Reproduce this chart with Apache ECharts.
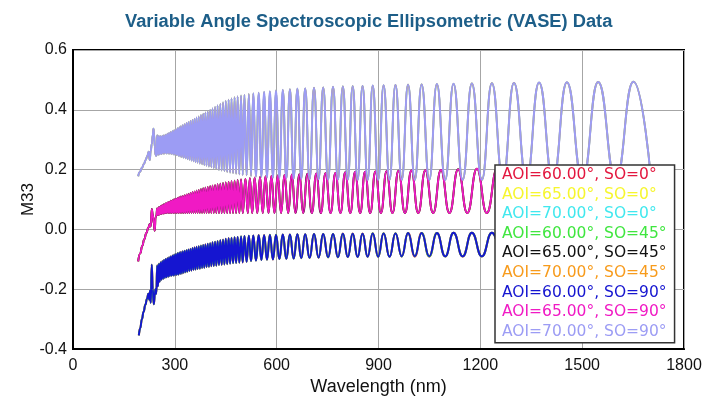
<!DOCTYPE html>
<html>
<head>
<meta charset="utf-8">
<script src="https://cdn.jsdelivr.net/npm/echarts/dist/echarts.min.js"></script>
<style>
  html, body { margin: 0; padding: 0; background: #fff; }
  #chart { width: 705px; height: 401px; }
</style>
</head>
<body>
<div id="chart"></div>
<script>
// M33 vs wavelength for three angles of incidence, each measured at three sample orientations.
const xTicks = [0, 300, 600, 900, 1200, 1500, 1800];
const yTicks = [-0.4, -0.2, 0.0, 0.2, 0.4, 0.6];

const seriesNames = [
  'AOI=60.00°, SO=0°', 'AOI=65.00°, SO=0°', 'AOI=70.00°, SO=0°',
  'AOI=60.00°, SO=45°', 'AOI=65.00°, SO=45°', 'AOI=70.00°, SO=45°',
  'AOI=60.00°, SO=90°', 'AOI=65.00°, SO=90°', 'AOI=70.00°, SO=90°'
];
// which angle-of-incidence curve each series follows
const seriesAoi = [60, 65, 70, 60, 65, 70, 60, 65, 70];

// ---- AOI = 70° : [wavelength nm, M33] ----
const aoi70Lead = [[192,0.178],[197,0.192],[203,0.206],[209,0.219],[214,0.232],[219,0.246],[223,0.26],[226,0.232],[229,0.262],[232,0.285],[235,0.315],[237,0.337],[239,0.318],[241,0.275],[243,0.25]];
const aoi70Peaks = [[248,0.315],[253,0.313],[258,0.312],[263,0.313],[268,0.315],[273,0.317],[278,0.32],[283,0.323],[288,0.326],[293,0.329],[298,0.332],[303,0.335],[308,0.339],[313,0.342],[318,0.345],[323.5,0.349],[329,0.352],[334.5,0.356],[340,0.359],[346,0.363],[352,0.366],[358,0.37],[364,0.374],[370.5,0.378],[377,0.383],[383.5,0.387],[390,0.391],[397,0.395],[404,0.4],[411,0.405],[418.5,0.41],[426,0.415],[434,0.42],[442,0.425],[450,0.43],[458.5,0.434],[467,0.438],[476,0.442],[485,0.445],[495,0.448],[505,0.45],[518,0.453],[531,0.455],[547,0.457],[563,0.46],[580,0.462],[598,0.465],[618,0.467],[639,0.469],[661,0.471],[684,0.472],[710,0.474],[737,0.475],[766,0.477],[795,0.478],[824,0.479],[853,0.48],[883,0.481],[915,0.482],[950,0.483],[987,0.484],[1027,0.485],[1072,0.486],[1121,0.487],[1175,0.488],[1234,0.489],[1299,0.49],[1373,0.491],[1455,0.492],[1547,0.493],[1651,0.494]];
const aoi70Troughs = [[245.5,0.246],[250.5,0.249],[255.5,0.251],[260.5,0.252],[265.5,0.253],[270.5,0.254],[275.5,0.254],[280.5,0.254],[285.5,0.253],[290.5,0.252],[295.5,0.251],[300.5,0.25],[305.5,0.248],[310.5,0.246],[315.5,0.244],[320.8,0.242],[326.2,0.24],[331.8,0.238],[337.2,0.235],[343,0.233],[349,0.23],[355,0.228],[361,0.225],[367.2,0.223],[373.8,0.22],[380.2,0.218],[386.8,0.215],[393.5,0.213],[400.5,0.21],[407.5,0.208],[414.8,0.205],[422.2,0.202],[430,0.199],[438,0.197],[446,0.195],[454.2,0.192],[462.8,0.19],[471.5,0.188],[480.5,0.186],[490,0.184],[500,0.182],[511.5,0.181],[524.5,0.179],[539,0.177],[555,0.176],[571.5,0.174],[589,0.173],[608,0.172],[628.5,0.171],[650,0.17],[672.5,0.169],[697,0.168],[723.5,0.168],[751.5,0.167],[780.5,0.167],[809.5,0.167],[838.5,0.166],[868,0.166],[899,0.166],[932.5,0.166],[968.5,0.166],[1007,0.166],[1049.5,0.166],[1096.5,0.166],[1148,0.166],[1204.5,0.166],[1266.5,0.166],[1336,0.166],[1414,0.166],[1501,0.166],[1599,0.166],[1703,0.166]];

// ---- AOI = 65° ----
const aoi65Lead = [[192,-0.107],[198,-0.08],[204,-0.055],[210,-0.033],[216,-0.012],[222,0.006],[226,0.018],[229,0.01],[232,0.068],[235,0.05],[238,0.02],[241,-0.004],[243,0.04]];
const aoi65Peaks = [[248,0.07],[253,0.074],[258,0.078],[263,0.081],[268,0.084],[273,0.087],[278,0.09],[283,0.093],[288,0.096],[293,0.098],[298,0.101],[303,0.103],[308,0.105],[313,0.108],[318,0.11],[323.5,0.112],[329,0.114],[334.5,0.117],[340,0.119],[346,0.122],[352,0.125],[358,0.127],[364,0.13],[370.5,0.132],[377,0.135],[383.5,0.138],[390,0.14],[397,0.142],[404,0.145],[411,0.147],[418.5,0.149],[426,0.151],[434,0.153],[442,0.155],[450,0.157],[458.5,0.159],[467,0.161],[476,0.163],[485,0.165],[495,0.167],[508,0.169],[521,0.171],[535,0.173],[551,0.175],[567,0.177],[584.5,0.179],[603,0.18],[623,0.182],[644.5,0.183],[667,0.185],[690.5,0.186],[717,0.187],[744,0.188],[773,0.189],[802,0.191],[831,0.192],[860.5,0.193],[891,0.194],[924,0.195],[959,0.196],[997,0.197],[1038,0.198],[1084,0.199],[1134.5,0.201],[1190,0.203],[1250,0.204],[1317.5,0.205],[1393.5,0.206],[1478,0.207],[1573,0.208],[1677,0.209]];
const aoi65Troughs = [[245.5,0.045],[250.5,0.048],[255.5,0.05],[260.5,0.052],[265.5,0.053],[270.5,0.054],[275.5,0.055],[280.5,0.055],[285.5,0.055],[290.5,0.055],[295.5,0.055],[300.5,0.055],[305.5,0.055],[310.5,0.055],[315.5,0.055],[320.8,0.055],[326.2,0.055],[331.8,0.055],[337.2,0.055],[343,0.055],[349,0.055],[355,0.055],[361,0.055],[367.2,0.055],[373.8,0.055],[380.2,0.055],[386.8,0.055],[393.5,0.055],[400.5,0.055],[407.5,0.055],[414.8,0.055],[422.2,0.055],[430,0.055],[438,0.055],[446,0.055],[454.2,0.055],[462.8,0.055],[471.5,0.055],[480.5,0.055],[490,0.055],[500,0.055],[515,0.055],[528,0.055],[543,0.055],[559,0.055],[576,0.055],[593.5,0.055],[613,0.055],[634,0.055],[655.5,0.055],[678,0.055],[703.5,0.055],[730,0.055],[759,0.055],[788,0.055],[817,0.055],[846,0.055],[875.5,0.055],[907,0.055],[941,0.055],[978,0.055],[1017,0.055],[1061,0.055],[1109,0.055],[1161.5,0.055],[1219,0.055],[1283,0.055],[1354.5,0.055],[1434.5,0.055],[1524,0.055],[1625,0.055],[1703,0.055]];

// ---- AOI = 60° ----
const aoi60Lead = [[194,-0.354],[198,-0.33],[203,-0.3],[208,-0.275],[213,-0.252],[218,-0.232],[222,-0.215],[225,-0.235],[227,-0.205],[229,-0.245],[232,-0.118],[235,-0.2],[238,-0.25],[241,-0.22],[243,-0.2]];
const aoi60Peaks = [[248,-0.12],[253,-0.115],[258,-0.11],[263,-0.106],[268,-0.102],[273,-0.099],[278,-0.096],[283,-0.093],[288,-0.09],[293,-0.087],[298,-0.084],[303,-0.082],[308,-0.079],[313,-0.077],[318,-0.075],[323.5,-0.073],[329,-0.071],[334.5,-0.069],[340,-0.067],[346,-0.065],[352,-0.062],[358,-0.06],[364,-0.058],[370.5,-0.056],[377,-0.054],[383.5,-0.052],[390,-0.05],[397,-0.048],[404,-0.046],[411,-0.043],[418.5,-0.041],[426,-0.039],[434,-0.036],[442,-0.034],[450,-0.031],[458.5,-0.029],[467,-0.028],[476,-0.026],[485,-0.025],[495,-0.023],[505,-0.022],[518,-0.021],[531,-0.02],[547,-0.019],[563,-0.019],[580,-0.018],[598,-0.018],[618,-0.017],[639,-0.017],[661,-0.016],[684,-0.016],[710,-0.015],[737,-0.015],[766,-0.015],[795,-0.014],[824,-0.014],[853,-0.014],[883,-0.013],[915,-0.013],[950,-0.013],[987,-0.012],[1027,-0.012],[1072,-0.012],[1121,-0.011],[1175,-0.011],[1234,-0.011],[1299,-0.01],[1373,-0.01],[1455,-0.01],[1547,-0.01],[1651,-0.01]];
const aoi60Troughs = [[245.5,-0.215],[250.5,-0.19],[255.5,-0.175],[260.5,-0.168],[265.5,-0.165],[270.5,-0.162],[275.5,-0.16],[280.5,-0.158],[285.5,-0.156],[290.5,-0.155],[295.5,-0.154],[300.5,-0.153],[305.5,-0.152],[310.5,-0.151],[315.5,-0.149],[320.8,-0.147],[326.2,-0.145],[331.8,-0.143],[337.2,-0.141],[343,-0.139],[349,-0.137],[355,-0.135],[361,-0.134],[367.2,-0.132],[373.8,-0.131],[380.2,-0.129],[386.8,-0.128],[393.5,-0.126],[400.5,-0.125],[407.5,-0.123],[414.8,-0.122],[422.2,-0.121],[430,-0.119],[438,-0.118],[446,-0.117],[454.2,-0.116],[462.8,-0.114],[471.5,-0.113],[480.5,-0.112],[490,-0.111],[500,-0.11],[511.5,-0.108],[524.5,-0.106],[539,-0.104],[555,-0.102],[571.5,-0.101],[589,-0.1],[608,-0.099],[628.5,-0.098],[650,-0.097],[672.5,-0.096],[697,-0.095],[723.5,-0.094],[751.5,-0.093],[780.5,-0.093],[809.5,-0.092],[838.5,-0.092],[868,-0.091],[899,-0.091],[932.5,-0.091],[968.5,-0.09],[1007,-0.09],[1049.5,-0.09],[1096.5,-0.09],[1148,-0.09],[1204.5,-0.09],[1266.5,-0.09],[1336,-0.09],[1414,-0.09],[1501,-0.09],[1599,-0.09],[1703,-0.09]];

// join lead-in with the fringe extrema, ordered by wavelength
function curve(lead, peaks, troughs) {
  const fringes = peaks.concat(troughs).sort((a, b) => a[0] - b[0]);
  return lead.concat(fringes);
}
const curves = {
  60: curve(aoi60Lead, aoi60Peaks, aoi60Troughs),
  65: curve(aoi65Lead, aoi65Peaks, aoi65Troughs),
  70: curve(aoi70Lead, aoi70Peaks, aoi70Troughs)
};

// styling
const colors = ['#e3173f', '#f6f62e', '#40e8ee', '#3fe63f', '#111111', '#f79b1c', '#1515d0', '#f01ac4', '#9c9cf4'];
const widths = [2.1, 1.8, 1.8, 2.0, 2.0, 1.8, 1.9, 1.9, 2.0];
const FONT = '"Liberation Sans", Arial, sans-serif';

const chart = echarts.init(document.getElementById('chart'), null, { renderer: 'canvas' });
chart.setOption({
  animation: false,
  backgroundColor: '#ffffff',
  title: {
    text: 'Variable Angle Spectroscopic Ellipsometric (VASE) Data',
    left: 120, top: 8,
    textStyle: { fontFamily: FONT, fontSize: 18.3, fontWeight: 'bold', color: '#1d5e88' }
  },
  grid: { left: 73, right: 21, top: 50, bottom: 47, show: true, borderColor: '#000', borderWidth: 2, backgroundColor: 'transparent' },
  legend: {
    orient: 'vertical', left: 495, top: 165,
    icon: 'none', itemWidth: 0, itemHeight: 16, itemGap: 3.6,
    padding: [2, 8, 3, 2],
    backgroundColor: '#ffffff', borderColor: '#333', borderWidth: 1.5,
    selectedMode: false,
    textStyle: { fontFamily: '"DejaVu Sans", sans-serif', fontSize: 15.5, lineHeight: 16 },
    data: seriesNames.map((n, i) => ({ name: n, textStyle: { color: colors[i] } }))
  },
  xAxis: {
    type: 'value', min: xTicks[0], max: xTicks[xTicks.length - 1], interval: 300,
    name: 'Wavelength (nm)', nameLocation: 'middle', nameGap: 28,
    nameTextStyle: { fontFamily: FONT, fontSize: 18, color: '#111' },
    axisLine: { show: true, onZero: false, lineStyle: { color: '#000', width: 2 } },
    axisTick: { show: false },
    axisLabel: { margin: 8, fontFamily: FONT, fontSize: 16, color: '#111', formatter: v => String(v) },
    splitLine: { show: true, lineStyle: { color: '#a6a6a6', width: 1 } }
  },
  yAxis: {
    type: 'value', min: yTicks[0], max: yTicks[yTicks.length - 1], interval: 0.2,
    name: 'M33', nameLocation: 'middle', nameGap: 36, nameRotate: 90, nameMoveOverlap: false,
    nameTextStyle: { fontFamily: FONT, fontSize: 17, color: '#111' },
    axisLine: { show: true, onZero: false, lineStyle: { color: '#000', width: 2 } },
    axisTick: { show: false },
    axisLabel: { margin: 6, fontFamily: FONT, fontSize: 16, color: '#111', formatter: v => v.toFixed(1) },
    splitLine: { show: true, lineStyle: { color: '#a6a6a6', width: 1 } }
  },
  series: seriesNames.map((n, i) => ({
    name: n,
    type: 'line',
    data: curves[seriesAoi[i]],
    showSymbol: false,
    symbol: 'none',
    smooth: 0.5,
    smoothMonotone: 'x',
    silent: true,
    clip: true,
    lineStyle: { color: colors[i], width: widths[i] },
    itemStyle: { color: colors[i] }
  }))
});
</script>
</body>
</html>
